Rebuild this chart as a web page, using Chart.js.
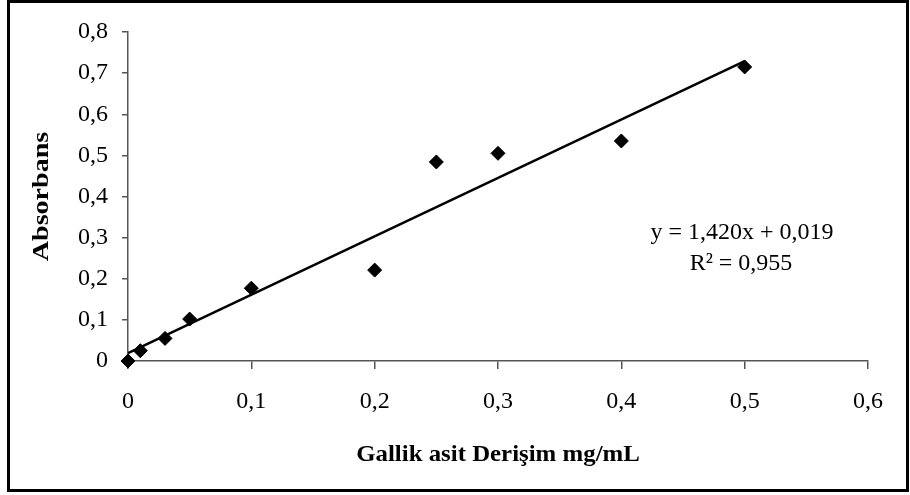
<!DOCTYPE html>
<html>
<head>
<meta charset="utf-8">
<script src="https://cdn.jsdelivr.net/npm/chart.js@4"></script>
<style>
  html, body { margin: 0; padding: 0; background: #fff; }
  #wrap { width: 910px; height: 495px; }
</style>
</head>
<body>
<div id="wrap"><canvas id="chart" width="910" height="495"></canvas></div>
<script>
// values
const concentrations = [0, 0.01, 0.03, 0.05, 0.1, 0.2, 0.25, 0.3, 0.4, 0.5];
const absorbances = [0, 0.025, 0.055, 0.102, 0.177, 0.221, 0.484, 0.505, 0.535, 0.715];
const trendX = [0, 0.5];
const trendY = [0.019, 0.729];
const xTickLabels = ['0', '0,1', '0,2', '0,3', '0,4', '0,5', '0,6'];
const yTickLabels = ['0', '0,1', '0,2', '0,3', '0,4', '0,5', '0,6', '0,7', '0,8'];
const xTitle = 'Gallik asit Derişim mg/mL';
const yTitle = 'Absorbans';
const equationLines = ['y = 1,420x + 0,019', 'R² = 0,955'];

const serif = '"Liberation Serif", "Times New Roman", serif';

const decorations = {
    id: 'decorations',
    afterDraw(chart) {
        const ctx = chart.ctx;
        const area = chart.chartArea;
        ctx.save();
        // outer frame
        ctx.strokeStyle = '#000';
        ctx.lineWidth = 3;
        ctx.strokeRect(8.5, 1.5, 899, 489);

        ctx.fillStyle = '#000';
        ctx.textAlign = 'center';
        ctx.textBaseline = 'middle';

        // axis titles (the original font is a little wide, so stretch it)
        ctx.font = 'bold 23px ' + serif;
        ctx.save();
        ctx.translate((area.left + area.right) / 2, 455);
        ctx.scale(1.08, 1);
        ctx.fillText(xTitle, 0, 0);
        ctx.restore();

        ctx.save();
        ctx.translate(42, (area.top + area.bottom) / 2);
        ctx.rotate(-Math.PI / 2);
        ctx.scale(1.22, 1);
        ctx.fillText(yTitle, 0, 0);
        ctx.restore();

        // regression equation
        ctx.font = '24px ' + serif;
        ctx.fillText(equationLines[0], 742, 233);
        ctx.fillText(equationLines[1], 741, 264);
        ctx.restore();
    }
};

new Chart(document.getElementById('chart'), {
    type: 'scatter',
    data: {
        datasets: [
            {
                label: 'Absorbans',
                data: concentrations.map((x, i) => ({ x: x, y: absorbances[i] })),
                pointStyle: 'rectRot',
                pointRadius: 7,
                pointHoverRadius: 7,
                backgroundColor: '#000',
                borderColor: '#000',
                borderWidth: 1,
                clip: false,
                order: 1
            },
            {
                label: 'Trend',
                type: 'line',
                data: trendX.map((x, i) => ({ x: x, y: trendY[i] })),
                borderColor: '#000',
                borderWidth: 2.5,
                pointRadius: 0,
                fill: false,
                order: 2
            }
        ]
    },
    options: {
        responsive: false,
        animation: false,
        layout: { padding: { top: 32, right: 42, left: 0, bottom: 0 } },
        plugins: {
            legend: { display: false },
            tooltip: { enabled: false }
        },
        scales: {
            x: {
                type: 'linear',
                min: 0,
                max: 0.6,
                afterFit: (scale) => { scale.height = 134; },
                afterBuildTicks: (scale) => {
                    scale.ticks = xTickLabels.map((t, i) => ({ value: i / 10 }));
                },
                ticks: {
                    padding: 18,
                    color: '#000',
                    font: { family: serif, size: 24 },
                    maxRotation: 0,
                    callback: (v, i) => xTickLabels[i]
                },
                grid: {
                    drawOnChartArea: false,
                    drawTicks: true,
                    tickLength: 8,
                    color: '#555',
                    lineWidth: 1.5
                },
                border: { color: '#555', width: 1.5 }
            },
            y: {
                type: 'linear',
                min: 0,
                max: 0.8,
                afterFit: (scale) => { scale.width = 128; },
                afterBuildTicks: (scale) => {
                    scale.ticks = yTickLabels.map((t, i) => ({ value: i / 10 }));
                },
                ticks: {
                    padding: 14,
                    color: '#000',
                    font: { family: serif, size: 24 },
                    callback: (v, i) => yTickLabels[i]
                },
                grid: {
                    drawOnChartArea: false,
                    drawTicks: true,
                    tickLength: 6,
                    color: '#555',
                    lineWidth: 1.5
                },
                border: { color: '#555', width: 1.5 }
            }
        }
    },
    plugins: [decorations]
});
</script>
</body>
</html>
